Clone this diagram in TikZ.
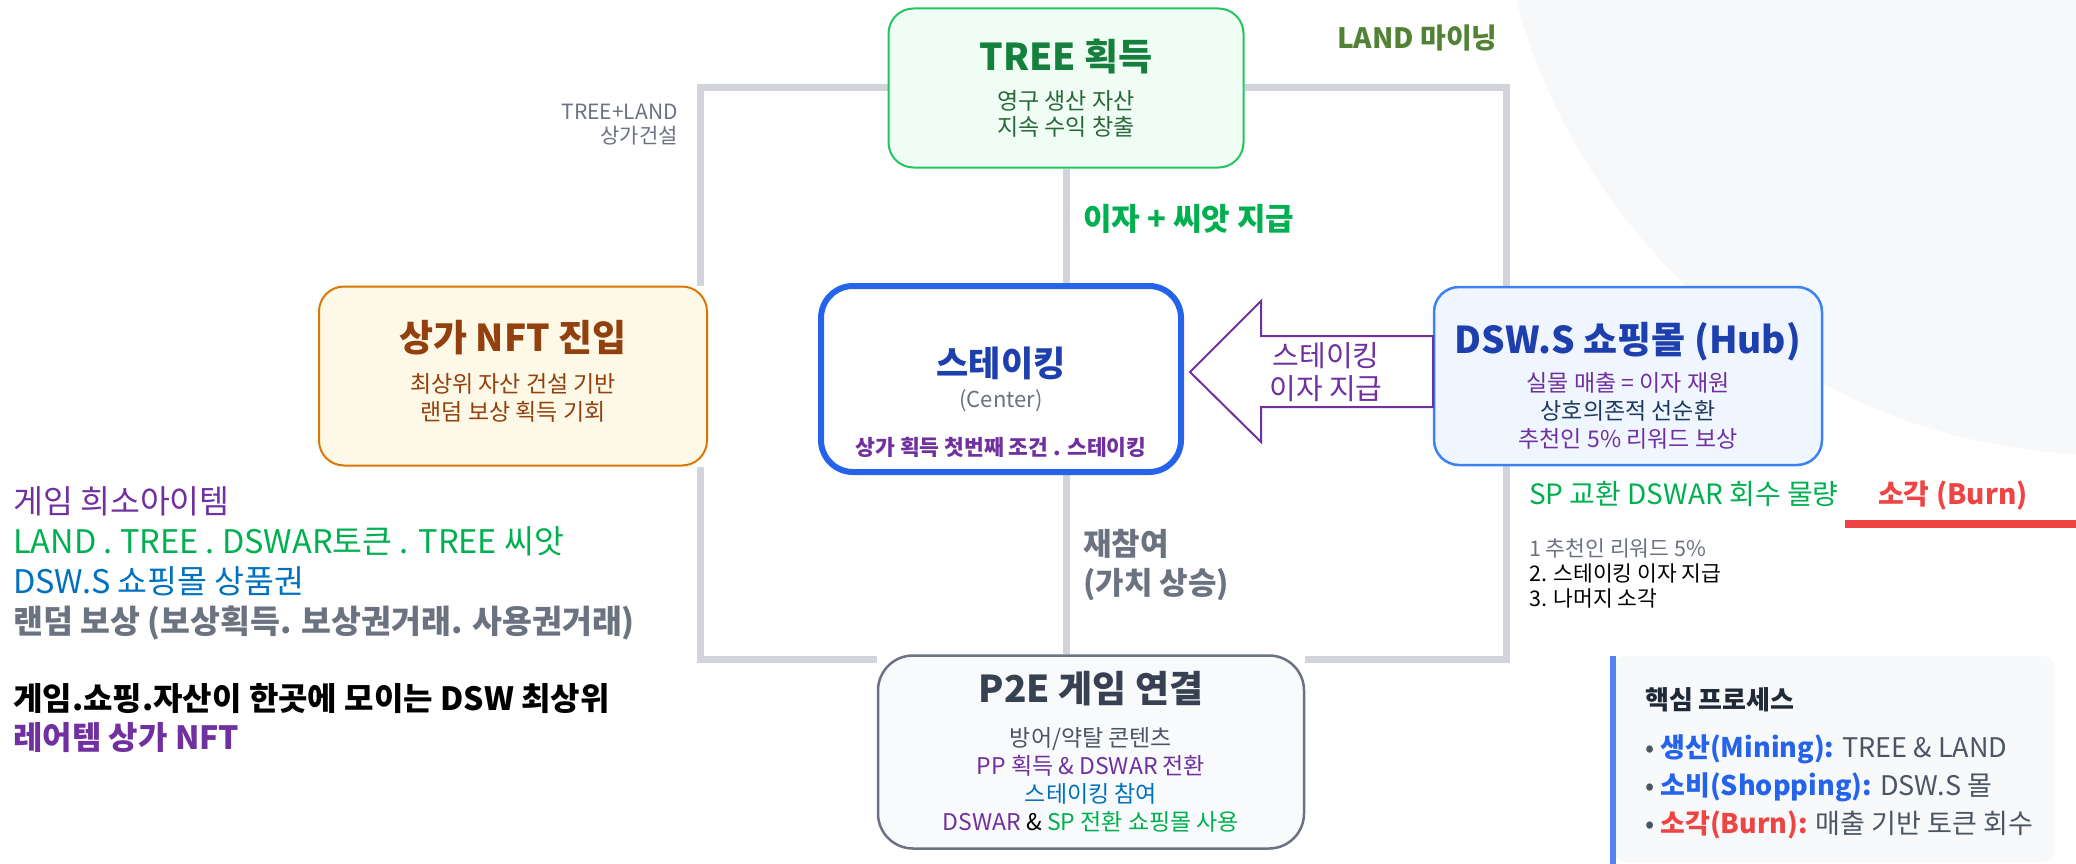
\documentclass[tikz,border=0pt]{standalone}
\usepackage{fontspec}
\setmainfont{Noto Sans CJK KR}
\usepackage{xcolor}
\usetikzlibrary{positioning, calc}
\pgfdeclarelayer{background}
\pgfsetlayers{background,main}

\definecolor{linkgray}{HTML}{D1D5DB}
\definecolor{treeline}{HTML}{22C55E}
\definecolor{treefill}{HTML}{F0FDF4}
\definecolor{treetitle}{HTML}{15803D}
\definecolor{treesub}{HTML}{276738}
\definecolor{nftline}{HTML}{D97706}
\definecolor{nftfill}{HTML}{FEF9E7}
\definecolor{nfttitle}{HTML}{92400E}
\definecolor{stakeline}{HTML}{2563EB}
\definecolor{navy}{HTML}{1E40AF}
\definecolor{softgray}{HTML}{6B7280}
\definecolor{dswline}{HTML}{3B82F6}
\definecolor{dswfill}{HTML}{EFF6FF}
\definecolor{dswmid}{HTML}{1E3A5F}
\definecolor{p2efill}{HTML}{F9FAFB}
\definecolor{p2etitle}{HTML}{374151}
\definecolor{p2ebody}{HTML}{4B5563}
\definecolor{dswpurple}{HTML}{7030A0}
\definecolor{dswgreen}{HTML}{00B050}
\definecolor{dswblue}{HTML}{0070C0}
\definecolor{olive}{HTML}{548235}
\definecolor{burnred}{HTML}{EF4444}
\definecolor{corefill}{HTML}{F8F9FA}
\definecolor{bgblob}{HTML}{F7F8F9}
\definecolor{ink}{HTML}{1F2937}

\newcommand{\boxtitle}[1]{{\fontsize{37}{41}\selectfont\bfseries #1}}

\begin{document}
\begin{tikzpicture}[x=1pt, y=-1pt,
  link/.style={draw=linkgray, line width=7pt},
  card/.style={rounded corners=25pt, line width=2pt, align=center, inner sep=0pt,
    font=\fontsize{23}{28}\selectfont},
  note/.style={inner sep=0pt, align=left},
  bigarrow/.style={draw=dswpurple, line width=2pt, fill=white}]
  \useasboundingbox (0,0) rectangle (2076,864);

  % Background
  \begin{scope}
    \clip (0,0) rectangle (2076,864);
    \fill[bgblob] (2110,-160) circle[radius=615pt];
  \end{scope}

  % Nodes
  \node[card, draw=treeline, fill=treefill, text=treesub, font=\fontsize{23}{26}\selectfont,
    minimum width=355pt, minimum height=159pt] (tree) at (1066,88)
    {\boxtitle{\color{treetitle}TREE 획득}\\[13pt]영구 생산 자산\\지속 수익 창출};
  \node[card, draw=nftline, fill=nftfill, text=nfttitle,
    minimum width=388pt, minimum height=179pt] (nft) at (513,376)
    {\boxtitle{상가 NFT 진입}\\[13pt]최상위 자산 건설 기반\\랜덤 보상 획득 기회\rule[-12pt]{0pt}{12pt}};
  \node[card, draw=stakeline, fill=white, line width=6pt, rounded corners=32pt,
    minimum width=360pt, minimum height=186pt] (stake) at (1001,379)
    {{\fontsize{35}{39}\selectfont\bfseries\color{navy}스테이킹}\\[3pt]{\fontsize{22}{26}\selectfont\color{softgray}(Center)}};
  \node[card, draw=dswline, fill=dswfill, line width=2.5pt,
    minimum width=388pt, minimum height=178pt] (dsw) at (1628,376)
    {\boxtitle{\color{navy}\rule{0pt}{50pt}DSW.S 쇼핑몰 (Hub)}\\[10pt]{\color{dswpurple}실물 매출 = 이자 재원}\\{\color{dswmid}상호의존적 선순환}\\{\color{dswpurple}추천인 5\% 리워드 보상}};
  \node[card, draw=softgray, fill=p2efill, text=p2ebody, line width=2.5pt, rounded corners=35pt,
    minimum width=426pt, minimum height=193pt] (p2e) at (1091,752)
    {\boxtitle{\color{p2etitle}P2E 게임 연결}\\[16pt]방어/약탈 콘텐츠\\{\color{dswpurple}PP 획득 \& DSWAR 전환}\\{\color{dswblue}스테이킹 참여}\\{\color{dswpurple}DSWAR} {\color{black}\&} {\color{dswgreen}SP 전환 쇼핑몰 사용}};
  \node[above=17pt of stake.south, inner sep=0pt, text=dswpurple,
    font=\fontsize{21.5}{26}\selectfont\bfseries] (firstStep) {상가 획득 첫번째 조건 . 스테이킹};

  % Links (under the cards)
  \begin{pgfonlayer}{background}
    \draw[link] (tree.west) -| ([xshift=-8pt]nft.north east);
    \draw[link] ([xshift=-8pt]nft.south east) |- ([yshift=-5pt]p2e.north west);
    \draw[link] (tree.east) -| ([xshift=-122pt]dsw.north);
    \draw[link] ([xshift=-122pt]dsw.south) |- ([yshift=-5pt]p2e.north east);
    \draw[link] (tree.south) -- (tree.south |- stake.north);
    \draw[link] (tree.south |- stake.south) -- (tree.south |- p2e.north);
  \end{pgfonlayer}

  % Arrow from the mall back to staking
  \draw[bigarrow] ([xshift=6pt,yshift=7pt]stake.east) -- ++(71,-71) -- ++(0,35) -- ++(172,0)
    -- ++(0,71) -- ++(-172,0) -- ++(0,35) -- cycle;
  \node[align=center, text=dswpurple, font=\fontsize{29}{33}\selectfont] (payTxt) at (1326,372) {스테이킹\\이자 지급};

  % Labels
  \node[note, anchor=north east, align=right, text=softgray, font=\fontsize{21}{24}\selectfont] (build) at (678,104) {TREE+LAND\\상가건설};
  \node[note, anchor=base west, text=olive, font=\fontsize{28}{32}\selectfont\bfseries] (landMine) at (1337,49) {LAND 마이닝};
  \node[note, anchor=base west, text=dswgreen, font=\fontsize{31}{35}\selectfont\bfseries] (interest) at (1083,230) {이자 + 씨앗 지급};
  \node[note, anchor=north west, text=softgray, font=\fontsize{31}{39}\selectfont\bfseries] (rejoin) at (1083,529) {재참여\\(가치 상승)};
  \node[note, anchor=base west, text=dswgreen, font=\fontsize{28}{32}\selectfont] (spText) at (1529,504) {SP 교환 DSWAR 회수 물량};
  \node[note, anchor=base west, text=burnred, font=\fontsize{28}{32}\selectfont\bfseries] (burn) at (1878,504) {소각 (Burn)};
  \draw[burnred, line width=8pt] ([xshift=-33pt,yshift=-14pt]burn.south west) -- ++(231,0);
  \node[note, anchor=north west, font=\fontsize{21.5}{25}\selectfont] (steps) at (1529,539)
    {{\color{softgray}1 추천인 리워드 5\%}\\2. 스테이킹 이자 지급\\3. 나머지 소각};

  % Left side text
  \node[note, anchor=north west, font=\fontsize{32.5}{40}\selectfont] (items) at (13,486)
    {{\color{dswpurple}게임 희소아이템}\\{\color{dswgreen}LAND . TREE . DSWAR토큰 . TREE 씨앗}\\{\color{dswblue}DSW.S 쇼핑몰 상품권}\\{\bfseries\color{softgray}랜덤 보상 (보상획득. 보상권거래. 사용권거래)}};
  \node[note, anchor=north west, font=\fontsize{32}{39}\selectfont\bfseries] (slogan) at (13,683)
    {게임.쇼핑.자산이 한곳에 모이는 DSW 최상위\\{\color{dswpurple}레어템 상가 NFT}};

  % Core process
  \node[fill=corefill, rounded corners=12pt, minimum width=442pt, minimum height=206pt,
    anchor=north west] (core) at (1613,656) {};
  \draw[stakeline!80!white, line width=6pt] (core.north west) -- ([yshift=-2pt]core.south west);
  \node[note, anchor=north west, text=p2ebody, font=\fontsize{27}{38}\selectfont] (coreTxt)
    at ([xshift=32pt,yshift=-31pt]core.north west)
    {{\fontsize{26}{30}\selectfont\bfseries\color{ink}핵심 프로세스}\\[10pt]
     • {\bfseries\color{stakeline}생산(Mining):} TREE \& LAND\\
     • {\bfseries\color{stakeline}소비(Shopping):} DSW.S 몰\\
     • {\bfseries\color{burnred}소각(Burn):} 매출 기반 토큰 회수};
\end{tikzpicture}
\end{document}
